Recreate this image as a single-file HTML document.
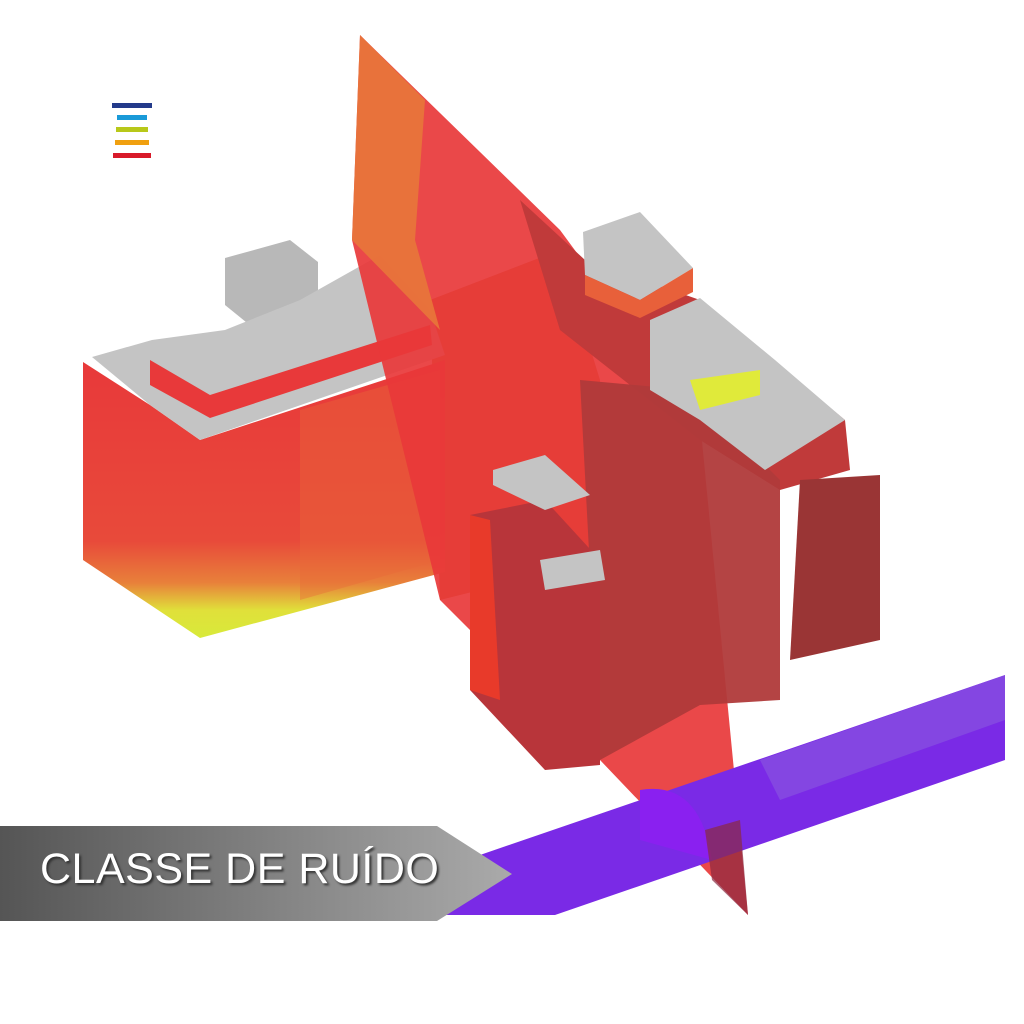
<!DOCTYPE html>
<html><head><meta charset="utf-8"><style>
body{margin:0;background:#fff;width:1024px;height:1024px;overflow:hidden;position:relative;font-family:"Liberation Sans",sans-serif}
svg{position:absolute;left:0;top:0}
.lbl{position:absolute;left:40px;top:845px;font-size:43px;color:#fff;letter-spacing:0.5px;text-shadow:2px 2px 2px #333}
</style></head><body>
<svg width="1024" height="1024" viewBox="0 0 1024 1024">
<defs>
<linearGradient id="bn" x1="0" x2="1"><stop offset="0" stop-color="#555"/><stop offset="1" stop-color="#aaa"/></linearGradient>
<linearGradient id="fr" x1="0" y1="0" x2="0" y2="1"><stop offset="0" stop-color="#e8393a"/><stop offset="0.65" stop-color="#e84a3a"/><stop offset="0.8" stop-color="#e8803a"/><stop offset="0.9" stop-color="#e0e03a"/><stop offset="1" stop-color="#d8ea3a"/></linearGradient>
</defs>
<rect x="112" y="103" width="40" height="5" fill="#233a8a"/>
<rect x="117" y="115" width="30" height="5" fill="#1a9ad8"/>
<rect x="116" y="127" width="32" height="5" fill="#b8c81a"/>
<rect x="115" y="140" width="34" height="5" fill="#f0a010"/>
<rect x="113" y="153" width="38" height="5" fill="#d81a2a"/>
<!-- background block between -->
<polygon points="430,300 560,250 600,380 600,560 440,600" fill="#c8702a"/>
<!-- left building -->
<polygon points="83,362 150,405 200,440 200,638 83,560" fill="url(#fr)"/>
<polygon points="200,440 445,360 445,572 200,638" fill="url(#fr)"/>
<polygon points="300,410 440,370 440,560 300,600" fill="#e86a3a" opacity="0.4"/>
<polygon points="225,258 290,240 318,262 318,330 262,335 225,305" fill="#b8b8b8"/>
<polygon points="92,357 152,340 225,330 300,300 380,255 430,310 445,355 200,440 150,405" fill="#c4c4c4"/>
<polygon points="150,360 210,395 430,325 432,345 210,418 150,385" fill="#e8393a"/>
<!-- plane -->
<polygon points="360,35 560,230 700,420 748,915 600,760 440,600 352,240" fill="#e8383a" opacity="0.92"/>
<polygon points="360,35 425,100 415,240 440,330 352,240" fill="#e8773a" opacity="0.9"/>
<!-- right complex -->
<polygon points="520,200 585,260 700,300 845,420 850,470 780,490 700,440 560,330" fill="#c03a3a"/>
<polygon points="800,480 880,475 880,640 790,660" fill="#9a3535"/>
<polygon points="580,380 690,390 780,480 780,700 700,705 600,760" fill="#b03a3a" opacity="0.95"/>
<polygon points="470,515 545,500 600,560 600,765 545,770 470,690" fill="#b8353a"/>
<polygon points="470,515 490,520 500,700 470,690" fill="#e83a2a"/>
<polygon points="583,232 640,212 693,268 640,300 585,275" fill="#c4c4c4"/>
<polygon points="585,275 640,300 693,268 693,292 640,318 585,295" fill="#e8603a"/>
<polygon points="650,320 700,298 775,360 845,420 765,470 700,420 650,390" fill="#c4c4c4"/>
<polygon points="690,380 760,370 760,395 700,410" fill="#e0ea3a"/>
<polygon points="493,470 545,455 590,495 545,510 493,485" fill="#c4c4c4"/>
<polygon points="540,560 600,550 605,580 545,590" fill="#c4c4c4"/>
<!-- purple strip -->
<polygon points="440,915 555,915 1005,760 1005,675 480,855" fill="#7a2ae6"/>
<polygon points="760,760 1005,675 1005,720 780,800" fill="#8a5ae0" opacity="0.6"/>
<path d="M640,790 Q700,780 712,860 L640,840 Z" fill="#8a20f0"/>
<polygon points="705,830 740,820 748,915 712,880" fill="#8a2a40" opacity="0.7"/>
<!-- banner -->
<polygon points="0,826 437,826 512,874 437,921 0,921" fill="url(#bn)"/>
</svg>
<div class="lbl">CLASSE DE RUÍDO</div>
</body></html>
